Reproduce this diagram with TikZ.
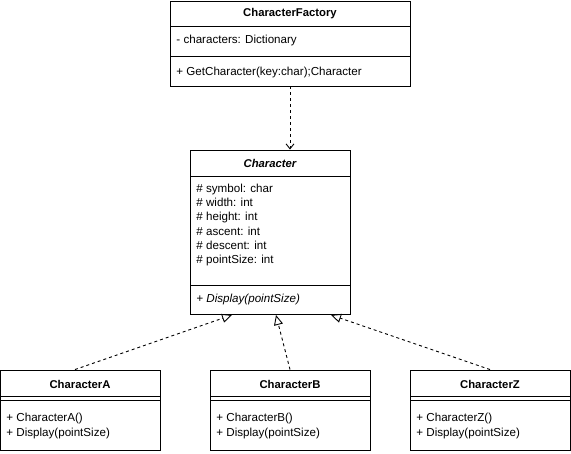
\documentclass[tikz,border=0pt]{standalone}
\usepackage{fontspec}
\setmainfont{Liberation Sans}
\usepackage{tikz}
\usetikzlibrary{arrows.meta}

\begin{document}
\begin{tikzpicture}[x=1pt,y=-1pt,line width=0.9pt,
  classbox/.style={draw,inner sep=0pt,fill=white},
  classname/.style={inner sep=0pt,font=\fontsize{11.3}{13}\selectfont\bfseries},
  members/.style={inner sep=0pt,anchor=west,align=left,font=\fontsize{11.6}{14.3}\selectfont},
  depend/.style={dash pattern=on 3pt off 3pt,-{Straight Barb[length=5pt,width=8pt]}},
  realize/.style={dash pattern=on 3pt off 3pt,-{Triangle[open,length=10pt,width=9pt]}}]
  \useasboundingbox (0,0) rectangle (571,454);
  % factory
  \node[classbox,minimum width=240pt,minimum height=85pt](factory) at (290,43.5){};
  \node[classname](factoryname) at (290,14){CharacterFactory};
  \draw (170,26) -- (410,26);
  \node[members](factoryattr) at (176,40.5){- characters: Dictionary};
  \draw (170,56.5) -- (410,56.5);
  \node[members](factoryops) at (176,72.5){+ GetCharacter(key:char);Character};
  % abstract class
  \node[classbox,minimum width=160pt,minimum height=164pt](character) at (270,232){};
  \node[classname,font=\fontsize{11.3}{13}\selectfont\bfseries\itshape](charactername) at (270,163){Character};
  \draw (190,176) -- (350,176);
  \node[members](characterattr) at (196,225){\# symbol: char\\ \# width: int\\ \# height: int\\
    \# ascent: int\\ \# descent: int\\ \# pointSize: int};
  \draw (190,285) -- (350,285);
  \node[members,font=\fontsize{11.6}{14.3}\selectfont\itshape](characterops) at (196,300){+ Display(pointSize)};
  % concrete classes
  \node[classbox,minimum width=160pt,minimum height=80pt](chara) at (80,410){};
  \node[classname](charaname) at (80,384){CharacterA};
  \draw (0,396) -- (160,396);
  \draw (0,400) -- (160,400);
  \node[members](charaops) at (6,426){+ CharacterA()\\ + Display(pointSize)};
  \node[classbox,minimum width=160pt,minimum height=80pt](charb) at (290,410){};
  \node[classname](charbname) at (290,384){CharacterB};
  \draw (210,396) -- (370,396);
  \draw (210,400) -- (370,400);
  \node[members](charbops) at (216,426){+ CharacterB()\\ + Display(pointSize)};
  \node[classbox,minimum width=160pt,minimum height=80pt](charz) at (490,410){};
  \node[classname](charzname) at (490,384){CharacterZ};
  \draw (410,396) -- (570,396);
  \draw (410,400) -- (570,400);
  \node[members](charzops) at (416,426){+ CharacterZ()\\ + Display(pointSize)};
  % connectors
  \coordinate (tipa) at (232,315);
  \coordinate (tipb) at (276,315);
  \coordinate (tipz) at (331,315);
  \draw[depend] (factory.south) -- (factory.south |- character.north);
  \draw[realize] ([xshift=-5pt]chara.north) -- (tipa);
  \draw[realize] (charb.north) -- (tipb);
  \draw[realize] (charz.north) -- (tipz);
\end{tikzpicture}
\end{document}
